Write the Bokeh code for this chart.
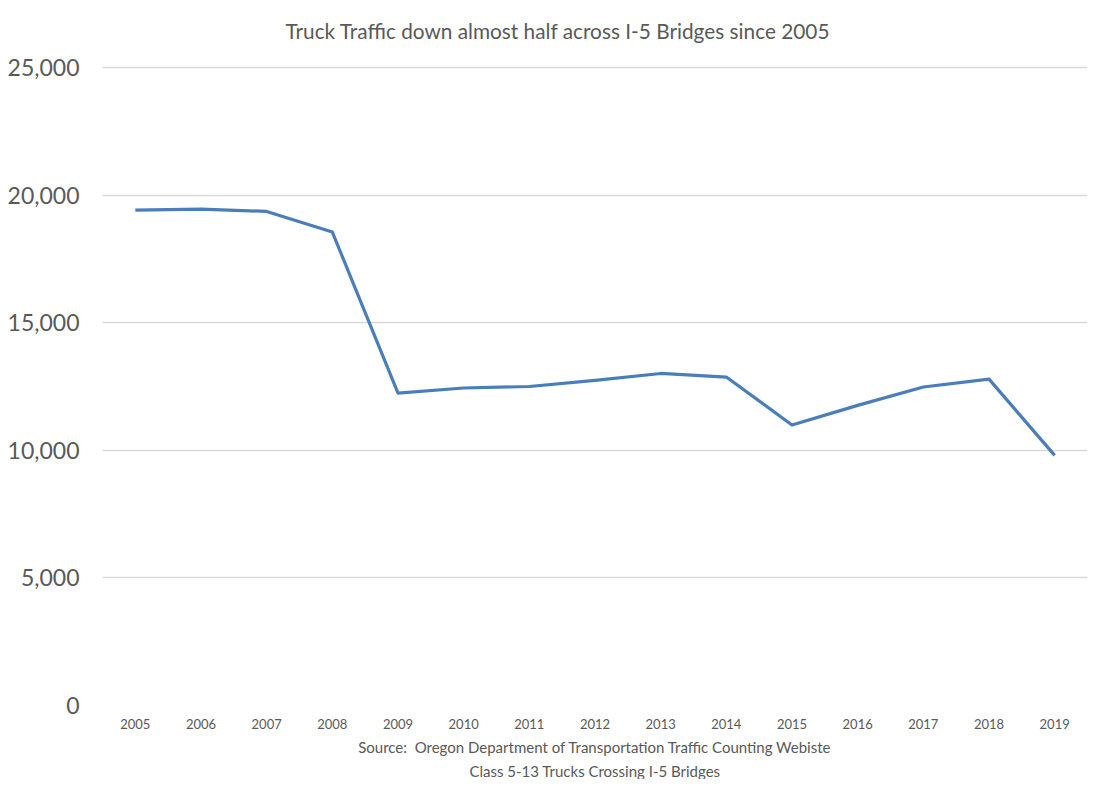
from bokeh.plotting import figure
from bokeh.models import Range1d, FactorRange, SingleIntervalTicker, NumeralTickFormatter, Title
from bokeh.embed import file_html
from bokeh.resources import INLINE

years = ["2005", "2006", "2007", "2008", "2009", "2010", "2011", "2012",
         "2013", "2014", "2015", "2016", "2017", "2018", "2019"]
trucks = [19410, 19450, 19360, 18550, 12240, 12440, 12500, 12740,
          13010, 12870, 10990, 11760, 12480, 12790, 9800]

title_text = "Truck Traffic down almost half across I-5 Bridges since 2005"
source_line1 = "Source:\u00a0 Oregon Department of Transportation Traffic Counting Webiste"
source_line2 = "Class 5-13 Trucks Crossing I-5 Bridges"

FONT = "Lato"
GREY = "#595959"

Y_MAX = 25000
# frame is 650 px tall; keep 10 px of blank space above the 25,000 gridline
y_end = Y_MAX * 650 / 640

p = figure(width=1088, height=779, x_range=FactorRange(*years, range_padding=0),
           y_range=Range1d(0, y_end), output_backend="svg", toolbar_location=None,
           min_border_left=102, min_border_right=1, min_border_top=0, min_border_bottom=0)
p.outline_line_color = None

p.line(x=years, y=trucks, line_color="#4a7ebb", line_width=3.2, line_join="round")

p.title.text = title_text
p.title.align = "left"
p.title.offset = 183
p.title.text_font = FONT
p.title.text_font_size = "20.8px"
p.title.text_font_style = "normal"
p.title.text_color = GREY
p.title.standoff = 30

yax = p.yaxis[0]
yax.ticker = SingleIntervalTicker(interval=5000)
yax.formatter = NumeralTickFormatter(format="0,0")
yax.axis_line_color = None
yax.major_tick_line_color = None
yax.minor_tick_line_color = None
yax.major_label_text_font = FONT
yax.major_label_text_font_size = "23px"
yax.major_label_text_color = GREY
yax.major_label_standoff = 17

xax = p.xaxis[0]
xax.axis_line_color = None
xax.major_tick_line_color = None
xax.minor_tick_line_color = None
xax.major_label_text_font = FONT
xax.major_label_text_font_size = "13px"
xax.major_label_text_color = GREY
xax.major_label_standoff = 7

p.xgrid.grid_line_color = None
p.ygrid.grid_line_color = "#d9d9d9"
p.ygrid.grid_line_width = 1.5

for txt, so in ((source_line1, 8), (source_line2, 0)):
    t = Title(text=txt, align="center", text_font=FONT, text_font_size="15px",
              text_font_style="normal", text_color=GREY, standoff=so)
    p.add_layout(t, "below")

open("out.html", "w").write(file_html(p, INLINE))
